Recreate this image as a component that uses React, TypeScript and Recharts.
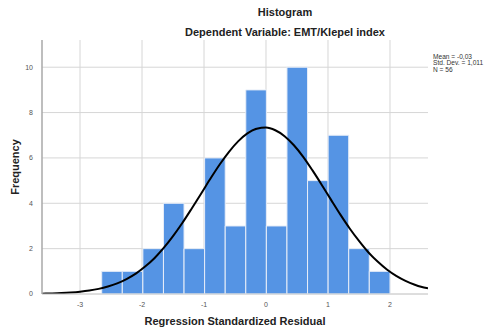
import React from "react";
import { ComposedChart, Line, XAxis, YAxis, CartesianGrid, ReferenceArea, Label } from "recharts";

// histogram bins: left edges, right edges, counts
const binStart = [-2.65, -2.318, -1.986, -1.654, -1.322, -0.99, -0.658, -0.326, 0.006, 0.338, 0.67, 1.002, 1.334, 1.666];
const binEnd = [-2.318, -1.986, -1.654, -1.322, -0.99, -0.658, -0.326, 0.006, 0.338, 0.67, 1.002, 1.334, 1.666, 2.0];
const counts = [1, 1, 2, 4, 2, 6, 3, 9, 3, 10, 5, 7, 2, 1];

// normal curve
const curveX = [-3.613, -3.45, -3.3, -3.15, -3.0, -2.85, -2.7, -2.55, -2.4, -2.25, -2.1, -1.95, -1.8, -1.65, -1.5, -1.35, -1.2, -1.05, -0.9, -0.75, -0.6, -0.45, -0.3, -0.15, 0, 0.15, 0.3, 0.45, 0.6, 0.75, 0.9, 1.05, 1.2, 1.35, 1.5, 1.65, 1.8, 1.95, 2.1, 2.25, 2.4, 2.5, 2.613];
const curveY = [0.014, 0.024, 0.039, 0.063, 0.098, 0.15, 0.225, 0.33, 0.47, 0.66, 0.9, 1.21, 1.58, 2.03, 2.55, 3.13, 3.76, 4.41, 5.07, 5.7, 6.26, 6.73, 7.08, 7.29, 7.34, 7.22, 6.96, 6.56, 6.05, 5.45, 4.81, 4.15, 3.5, 2.89, 2.34, 1.84, 1.43, 1.08, 0.8, 0.58, 0.41, 0.32, 0.25];

const xTicks = [-3, -2, -1, 0, 1, 2];
const yTicks = [0, 2, 4, 6, 8, 10];
const statsLines = ["Mean = -0,03", "Std. Dev. = 1,011", "N = 56"];

const curveData = curveX.map((x, i) => ({ x, y: curveY[i] }));

const FONT = "'Liberation Sans', Arial, sans-serif";

export default function App() {
  return (
    <div style={{ position: "absolute", left: 0, top: 0, width: 490, height: 331, background: "#fff", fontFamily: FONT }}>
      <div style={{ position: "absolute", left: 0, width: 570, top: 6, textAlign: "center", fontSize: 11, fontWeight: "bold", color: "#222" }}>
        Histogram
      </div>
      <div style={{ position: "absolute", left: 0, width: 570, top: 26, textAlign: "center", fontSize: 11, fontWeight: "bold", color: "#222" }}>
        Dependent Variable: EMT/Klepel index
      </div>
      <div style={{ position: "absolute", left: 433, top: 54, fontSize: 6.6, lineHeight: "6.4px", color: "#333", whiteSpace: "nowrap" }}>
        {statsLines.map((s) => (
          <div key={s}>{s}</div>
        ))}
      </div>
      <ComposedChart
        width={490}
        height={331}
        data={curveData}
        margin={{ top: 40, right: 62, bottom: 7, left: 12 }}
        style={{ position: "absolute", left: 0, top: 0 }}
      >
        <CartesianGrid stroke="#d6d6d6" strokeWidth={1} horizontalValues={yTicks} verticalValues={xTicks} />
        <XAxis
          dataKey="x"
          type="number"
          domain={[-3.613, 2.613]}
          ticks={xTicks}
          allowDataOverflow
          axisLine={{ stroke: "#d0d0d0" }}
          tickLine={false}
          tick={{ fontSize: 7, fill: "#555", fontFamily: FONT }}
          tickMargin={2}
          height={30}
        >
          <Label value="Regression Standardized Residual" position="insideBottom" offset={-1} style={{ fontSize: 11, fontWeight: "bold", fill: "#222", fontFamily: FONT }} />
        </XAxis>
        <YAxis
          type="number"
          domain={[0, 11.2]}
          ticks={yTicks}
          allowDataOverflow
          axisLine={{ stroke: "#a8a8a8", strokeWidth: 1.5 }}
          tickLine={false}
          tick={{ fontSize: 7, fill: "#555", fontFamily: FONT }}
          tickMargin={3}
          width={30}
        >
          <Label value="Frequency" angle={-90} position="insideLeft" offset={3} style={{ fontSize: 11, fontWeight: "bold", fill: "#222", fontFamily: FONT, textAnchor: "middle" }} />
        </YAxis>
        {counts.map((c, i) => (
          <ReferenceArea
            key={i}
            x1={binStart[i]}
            x2={binEnd[i]}
            y1={0}
            y2={c}
            fill="#5594e4"
            fillOpacity={1}
            stroke="#e8eef8"
            strokeWidth={1}
            ifOverflow="visible"
          />
        ))}
        <Line
          type="monotone"
          dataKey="y"
          stroke="#000"
          strokeWidth={2}
          dot={false}
          activeDot={false}
          isAnimationActive={false}
        />
      </ComposedChart>
    </div>
  );
}
